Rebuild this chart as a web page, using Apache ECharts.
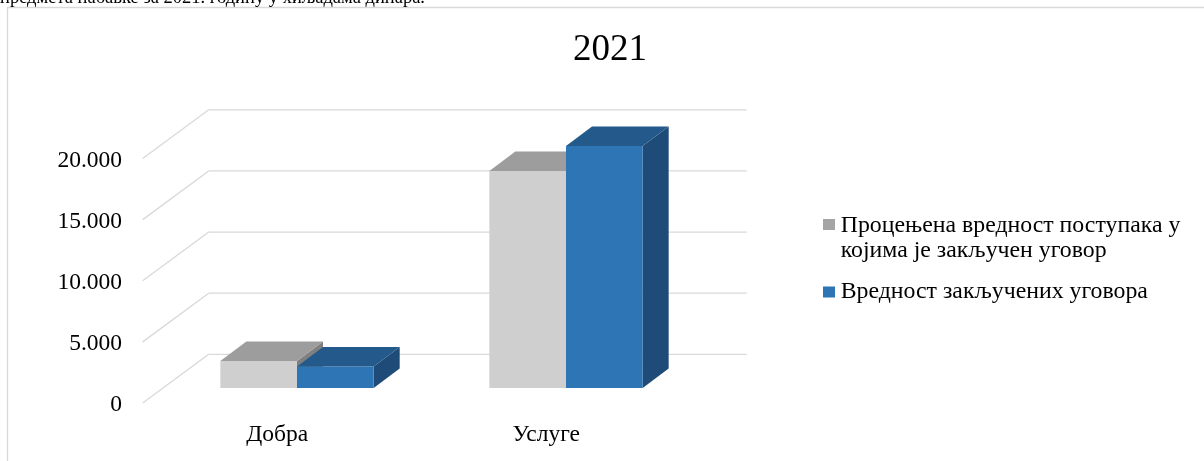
<!DOCTYPE html>
<html><head><meta charset="utf-8">
<script src="https://cdn.jsdelivr.net/npm/echarts@6/dist/echarts.min.js"></script>
<style>html,body{margin:0;padding:0;background:#fff}#c{width:1204px;height:461px}</style>
</head><body><div id="c"></div>
<script>
const categories = ['Добра', 'Услуге'];
const estimatedValues = [2200, 17750];
const contractValues = [1750, 19800];
const seriesNames = ['Процењена вредност поступака у којима је закључен уговор', 'Вредност закључених уговора'];
const legendLabels = ['Процењена вредност поступака у\nкојима је закључен уговор', 'Вредност закључених уговора'];
const yTicks = [0, 5000, 10000, 15000, 20000];
const titleText = '2021';
const captionText = 'предмета набавке за 2021. годину у хиљадама динара.';

const FONT = '"Liberation Serif", "Times New Roman", serif';
const FS = 23.5;
const BACK_DX = 46.2, BACK_DY = -33.7, FRONT_DX = -19.8, FRONT_DY = 15;
const BAR_DX = 26, BAR_DY = -19.5;
const grayColors = { front: '#d0cfd0', top: '#9d9d9d', side: '#808080', legend: '#a5a5a5' };
const blueColors = { front: '#2e75b6', top: '#235a8b', side: '#1f4b78', legend: '#2e75b6' };

function fmt(v) { return String(v).replace(/\B(?=(\d{3})+(?!\d))/g, '.'); }

function wallRender(params, api) {
  const cs = params.coordSys;
  const p = api.coord([0, api.value(1)]);
  const y = p[1];
  const xl = cs.x, xr = cs.x + cs.width;
  const st = { stroke: '#d9d9d9', lineWidth: 1.3, fill: null };
  return { type: 'group', children: [
    { type: 'line', shape: { x1: xl + FRONT_DX, y1: y + FRONT_DY, x2: xl + BACK_DX, y2: y + BACK_DY }, style: st },
    { type: 'line', shape: { x1: xl + BACK_DX, y1: y + BACK_DY, x2: xr + BACK_DX, y2: y + BACK_DY }, style: st }
  ]};
}

function barRender(side, colors) {
  return function (params, api) {
    const ci = api.value(0), v = api.value(1);
    const base = api.coord([ci, 0]);
    const top = api.coord([ci, v]);
    const band = api.size([1, 0])[0];
    const w = band * 0.285;
    const x0 = side === 0 ? base[0] - w : base[0];
    const x1 = x0 + w;
    const yb = base[1], yt = top[1];
    return { type: 'group', children: [
      { type: 'polygon', shape: { points: [[x1, yb], [x1 + BAR_DX, yb + BAR_DY], [x1 + BAR_DX, yt + BAR_DY], [x1, yt]] }, style: { fill: colors.side } },
      { type: 'rect', shape: { x: x0, y: yt, width: w, height: yb - yt }, style: { fill: colors.front } },
      { type: 'polygon', shape: { points: [[x0, yt], [x1, yt], [x1 + BAR_DX, yt + BAR_DY], [x0 + BAR_DX, yt + BAR_DY]] }, style: { fill: colors.top } }
    ]};
  };
}

const chart = echarts.init(document.getElementById('c'), null, { renderer: 'canvas' });
chart.setOption({
  animation: false,
  backgroundColor: '#fff',
  grid: { left: 162.5, right: 503.5, top: 143.5, bottom: 73, containLabel: false },
  xAxis: {
    type: 'category', data: categories,
    axisLine: { show: false }, axisTick: { show: false }, splitLine: { show: false },
    axisLabel: { fontFamily: FONT, fontSize: FS, color: '#000', margin: 35, lineHeight: FS, padding: [0, 39.6, 0, 0] }
  },
  yAxis: {
    type: 'value', min: 0, max: 20000, interval: 5000,
    axisLine: { show: false }, axisTick: { show: false }, splitLine: { show: false },
    axisLabel: { fontFamily: FONT, fontSize: FS, color: '#000', margin: 40.5, lineHeight: 34, verticalAlign: 'top', formatter: fmt }
  },
  graphic: [
    { type: 'rect', shape: { x: 7.5, y: 7.5, width: 1400, height: 800 }, style: { fill: null, stroke: '#d9d9d9', lineWidth: 1.3 }, z: -10 },
    { type: 'text', x: 0, y: -2, style: { text: captionText, font: '18.5px ' + FONT, fill: '#000', textAlign: 'left', textVerticalAlign: 'middle' } },
    { type: 'text', x: 610, y: 50.7, style: { text: titleText, font: '37px ' + FONT, fill: '#000', textAlign: 'center', textVerticalAlign: 'middle' } },
    { type: 'rect', shape: { x: 823, y: 219, width: 12, height: 11 }, style: { fill: grayColors.legend } },
    { type: 'text', x: 840.7, y: 213, style: { text: legendLabels[0], font: '23.8px ' + FONT, lineHeight: 25, fill: '#000', textAlign: 'left', textVerticalAlign: 'top' } },
    { type: 'rect', shape: { x: 823, y: 286.5, width: 12, height: 11 }, style: { fill: blueColors.legend } },
    { type: 'text', x: 840.7, y: 279.7, style: { text: legendLabels[1], font: '23.8px ' + FONT, lineHeight: 25, fill: '#000', textAlign: 'left', textVerticalAlign: 'top' } }
  ],
  series: [
    { type: 'custom', name: 'wall', renderItem: wallRender, data: yTicks.map(v => [0, v]), encode: { x: 0, y: 1 }, silent: true, z: 1 },
    { type: 'custom', name: seriesNames[0], renderItem: barRender(0, grayColors), data: categories.map((c, i) => [i, estimatedValues[i]]), encode: { x: 0, y: 1 }, z: 2 },
    { type: 'custom', name: seriesNames[1], renderItem: barRender(1, blueColors), data: categories.map((c, i) => [i, contractValues[i]]), encode: { x: 0, y: 1 }, z: 3 }
  ]
});
</script>
</body></html>
